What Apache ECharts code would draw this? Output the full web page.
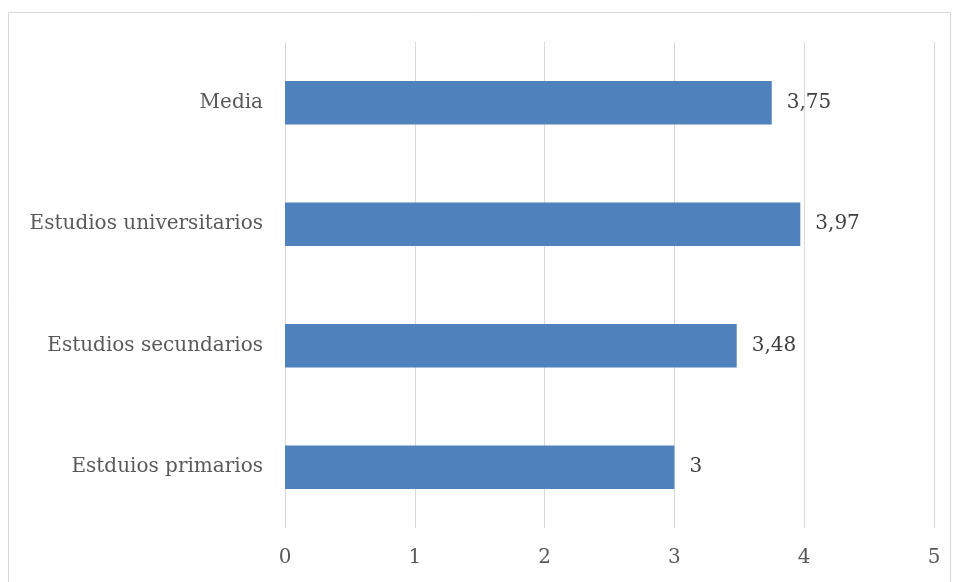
<!DOCTYPE html>
<html><head><meta charset="utf-8">
<script src="https://cdn.jsdelivr.net/npm/echarts@6/dist/echarts.min.js"></script>
<style>html,body{margin:0;padding:0;background:#fff}#c{width:957px;height:582px}</style>
</head><body><div id="c"></div>
<script>
const categories = ["Estduios primarios", "Estudios secundarios", "Estudios universitarios", "Media"];
const values = [3, 3.48, 3.97, 3.75];
const xTicks = [0, 1, 2, 3, 4, 5];

const chart = echarts.init(document.getElementById('c'));
const font = 'DejaVu Serif';
chart.setOption({
  animation: false,
  graphic: [{type: 'rect', shape: {x: 8.5, y: 12.5, width: 942, height: 620}, style: {fill: 'none', stroke: '#d9d9d9', lineWidth: 1}}],
  grid: {left: 285, right: 23, top: 42, bottom: 54},
  xAxis: {
    type: 'value', min: xTicks[0], max: xTicks[xTicks.length - 1], interval: 1,
    axisLine: {show: false}, axisTick: {show: false},
    splitLine: {lineStyle: {color: '#d9d9d9', width: 1}},
    axisLabel: {color: '#595959', fontFamily: font, fontSize: 20, margin: 20}
  },
  yAxis: {
    type: 'category', data: categories,
    axisLine: {show: false}, axisTick: {show: false},
    axisLabel: {color: '#595959', fontFamily: font, fontSize: 20, margin: 22}
  },
  series: [{
    type: 'bar', data: values, barWidth: '36%',
    itemStyle: {color: '#4f81bd'},
    label: {show: true, position: 'right', distance: 15, color: '#404040', fontFamily: font, fontSize: 20,
      formatter: p => String(p.value).replace('.', ',')}
  }]
});
</script></body></html>
